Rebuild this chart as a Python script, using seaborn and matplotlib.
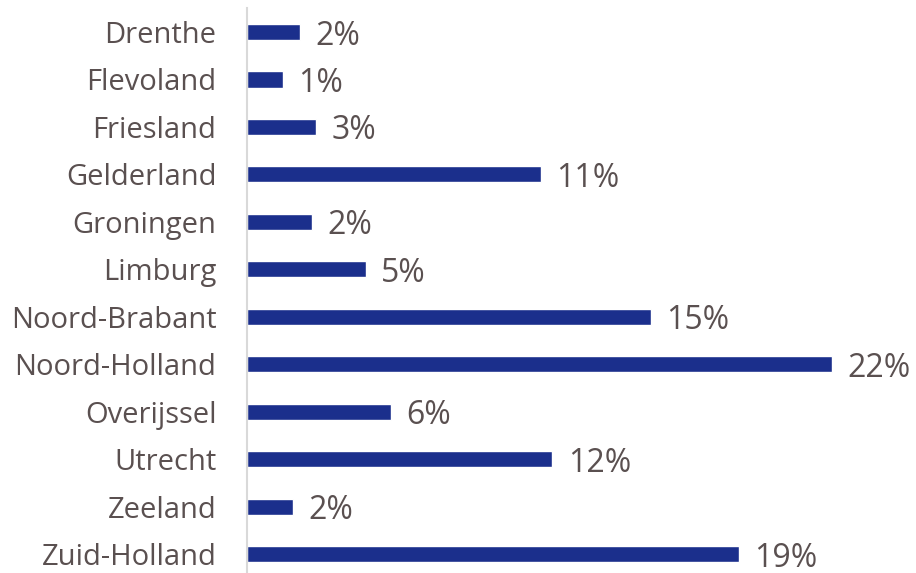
import matplotlib
matplotlib.use("Agg")
import matplotlib.pyplot as plt
import seaborn as sns
import pandas as pd

provinces = ["Drenthe", "Flevoland", "Friesland", "Gelderland", "Groningen", "Limburg",
             "Noord-Brabant", "Noord-Holland", "Overijssel", "Utrecht", "Zeeland", "Zuid-Holland"]
shares = [2.03, 1.38, 2.64, 11.26, 2.49, 4.56, 15.48, 22.4, 5.52, 11.7, 1.76, 18.85]

df = pd.DataFrame({"province": provinces, "share": shares})

sns.set_theme(style="white")
plt.rcParams['font.family'] = ['Open Sans', 'DejaVu Sans']

text_color = "#5a5050"
bar_color = "#1b2f8c"

fig = plt.figure(figsize=(9.16, 5.73), dpi=100)
ax = fig.add_axes([0.2697, -0.0084, 0.69, 0.9939])

sns.barplot(data=df, x="share", y="province", orient="h", color=bar_color,
            width=0.34, ax=ax, saturation=1)

for i, v in enumerate(shares):
    ax.annotate(f"{v:.0f}%", xy=(v, i), xytext=(11, 0), textcoords="offset points",
                va="center_baseline", ha="left", fontsize=23, color=text_color)

ax.set_xlim(0, 632 / 26.1)
ax.set_xlabel("")
ax.set_ylabel("")
ax.set_xticks([])
for s in ["top", "right", "bottom"]:
    ax.spines[s].set_visible(False)
ax.spines["left"].set_color("#d9d9d9")
ax.spines["left"].set_linewidth(1.5)
ax.tick_params(axis="y", length=0, pad=22, labelsize=21, labelcolor=text_color)

fig.savefig("out.png", dpi=100)
